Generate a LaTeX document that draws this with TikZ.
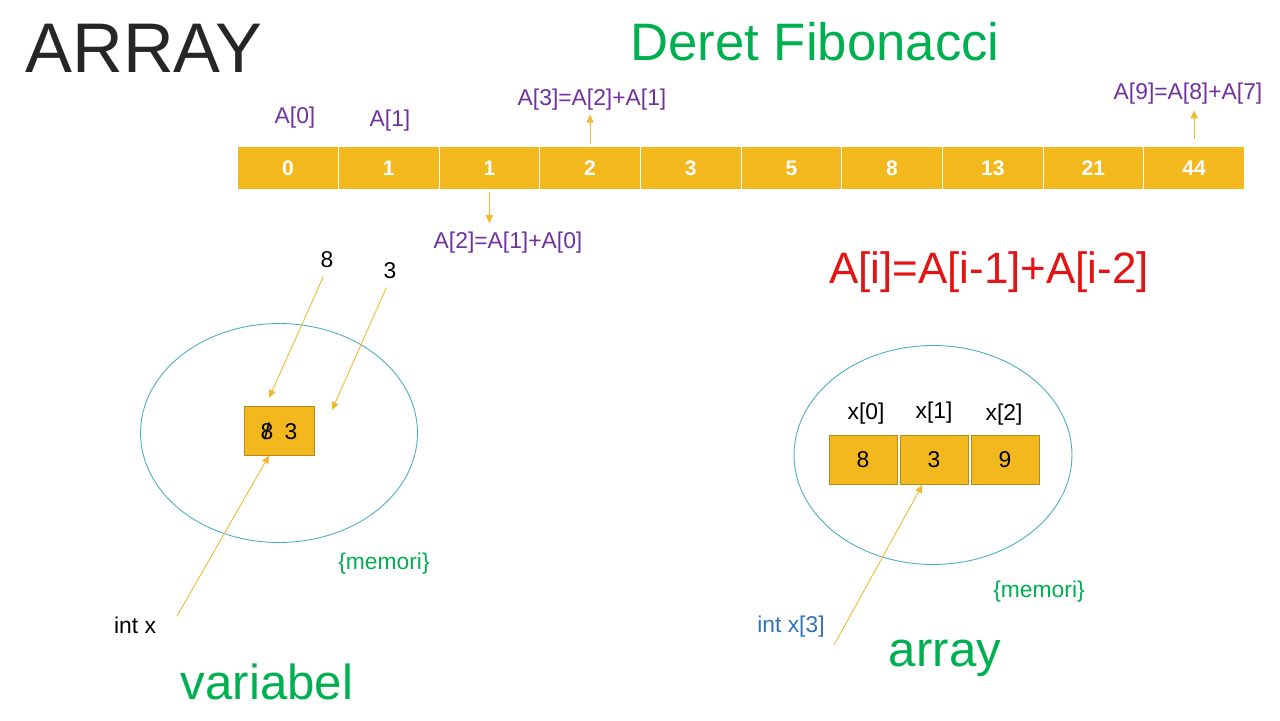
\documentclass[tikz,border=0pt]{standalone}
\usepackage{fontspec}
\setmainfont{Liberation Sans}
\usepackage{xcolor}
\usetikzlibrary{arrows.meta,positioning,shapes.geometric}
\definecolor{gold}{RGB}{243,184,30}
\definecolor{arrowgold}{RGB}{240,185,50}
\definecolor{idxpurple}{RGB}{112,48,160}
\definecolor{ppgreen}{RGB}{0,176,80}
\definecolor{ppred}{RGB}{228,20,20}
\definecolor{ppblue}{RGB}{46,117,182}
\definecolor{memblue}{RGB}{75,172,198}
\definecolor{titlegray}{RGB}{38,38,38}
\tikzset{
    cell/.style={rectangle,draw=white,line width=0.6pt,fill=gold,outer sep=0pt,inner sep=0pt,
        minimum width=2.014cm,minimum height=0.86cm,text=white,font=\fontsize{12}{14}\selectfont\bfseries},
    memcell/.style={rectangle,draw=gold!75!black,line width=0.4pt,fill=gold,outer sep=0pt,inner sep=0pt,
        minimum width=1.36cm,minimum height=0.99cm,font=\fontsize{13}{15}\selectfont},
    idx/.style={inner sep=0pt,text=idxpurple,font=\fontsize{13}{15}\selectfont},
    lbl/.style={inner sep=0pt,font=\fontsize{13}{15}\selectfont},
    memory/.style={ellipse,draw=memblue,line width=0.5pt,inner sep=0pt},
    memtag/.style={inner sep=0pt,text=ppgreen,font=\fontsize{13}{15}\selectfont},
    bigword/.style={inner sep=0pt,text=ppgreen,font=\fontsize{28}{32}\selectfont},
    arr/.style={-{Triangle[length=1.6mm,width=1.4mm]},draw=arrowgold,line width=0.5pt}
}
\begin{document}
\begin{tikzpicture}[x=0.02cm,y=-0.02cm]
    \useasboundingbox (0,0) rectangle (1280,720);
    % titles
    \node[inner sep=0pt,text=titlegray,font=\fontsize{40}{44}\selectfont] (title) at (144,48) {ARRAY};
    \node[inner sep=0pt,text=ppgreen,font=\fontsize{30}{34}\selectfont] (fibo) at (815,42) {Deret Fibonacci};
    \node[inner sep=0pt,text=ppred,font=\fontsize{25}{28}\selectfont] (rumus) at (989,272) {A[i]=A[i-1]+A[i-2]};

    % deret
    \node[cell] (a0) at (288,168) {0};
    \node[cell,right=0pt of a0] (a1) {1};
    \node[cell,right=0pt of a1] (a2) {1};
    \node[cell,right=0pt of a2] (a3) {2};
    \node[cell,right=0pt of a3] (a4) {3};
    \node[cell,right=0pt of a4] (a5) {5};
    \node[cell,right=0pt of a5] (a6) {8};
    \node[cell,right=0pt of a6] (a7) {13};
    \node[cell,right=0pt of a7] (a8) {21};
    \node[cell,right=0pt of a8] (a9) {44};

    \node[idx] (i0) at (295,118) {A[0]};
    \node[idx] (i1) at (390,121) {A[1]};
    \node[idx] (i3) at (592,100) {A[3]=A[2]+A[1]};
    \node[idx] (i2) at (508,243) {A[2]=A[1]+A[0]};
    \node[idx] (i9) at (1188,94) {A[9]=A[8]+A[7]};

    \draw[arr,shorten <=1.5pt,shorten >=2pt] (a3.north) -- (a3.north |- i3.south);
    \draw[arr,shorten <=1.5pt,shorten >=5pt] (a2.south) -- (a2.south |- i2.north);
    \draw[arr,shorten <=4pt,shorten >=3pt] (a9.north) -- (a9.north |- i9.south);

    % variabel
    \node[memory,minimum width=5.54cm,minimum height=4.38cm] (memv) at (279,433) {};
    \node[memcell,minimum width=1.4cm,minimum height=0.98cm] (var) at (279,431)
        {\makebox[0pt][l]{8}\makebox[0.556em]{/}\hspace{0.5em}3};
    \node[lbl] (val8) at (327,260) {8};
    \node[lbl] (val3) at (390,271) {3};
    \node[lbl] (intx) at (135,625) {int x};
    \node[memtag] (tagv) at (384,564) {\{memori\}};
    \node[bigword] (wvar) at (267,682) {variabel};
    \coordinate (tip8) at (269,398);
    \coordinate (tip3) at (332,410);
    \coordinate (srcx) at (177,616);

    \draw[arr,shorten <=5pt] (val8.south) -- (tip8);
    \draw[arr,shorten <=5pt] (val3.south) -- (tip3);
    \draw[arr] (srcx) -- (var.248);

    % array
    \node[memory,minimum width=5.56cm,minimum height=4.38cm] (mema) at (933,455) {};
    \node[memcell] (m0) at (863,460) {8};
    \node[memcell,right=0.06cm of m0] (m1) {3};
    \node[memcell,right=0.06cm of m1] (m2) {9};
    \node[lbl] (x0) at (866,414) {x[0]};
    \node[lbl] (x1) at (934,413) {x[1]};
    \node[lbl] (x2) at (1004,415) {x[2]};
    \node[lbl,text=ppblue] (intxa) at (791,627) {int x[3]};
    \node[memtag] (taga) at (1039,592) {\{memori\}};
    \node[bigword] (warr) at (945,658) {array};
    \coordinate (srca) at (834,645);

    \draw[arr] (srca) -- (m1.245);
\end{tikzpicture}
\end{document}
